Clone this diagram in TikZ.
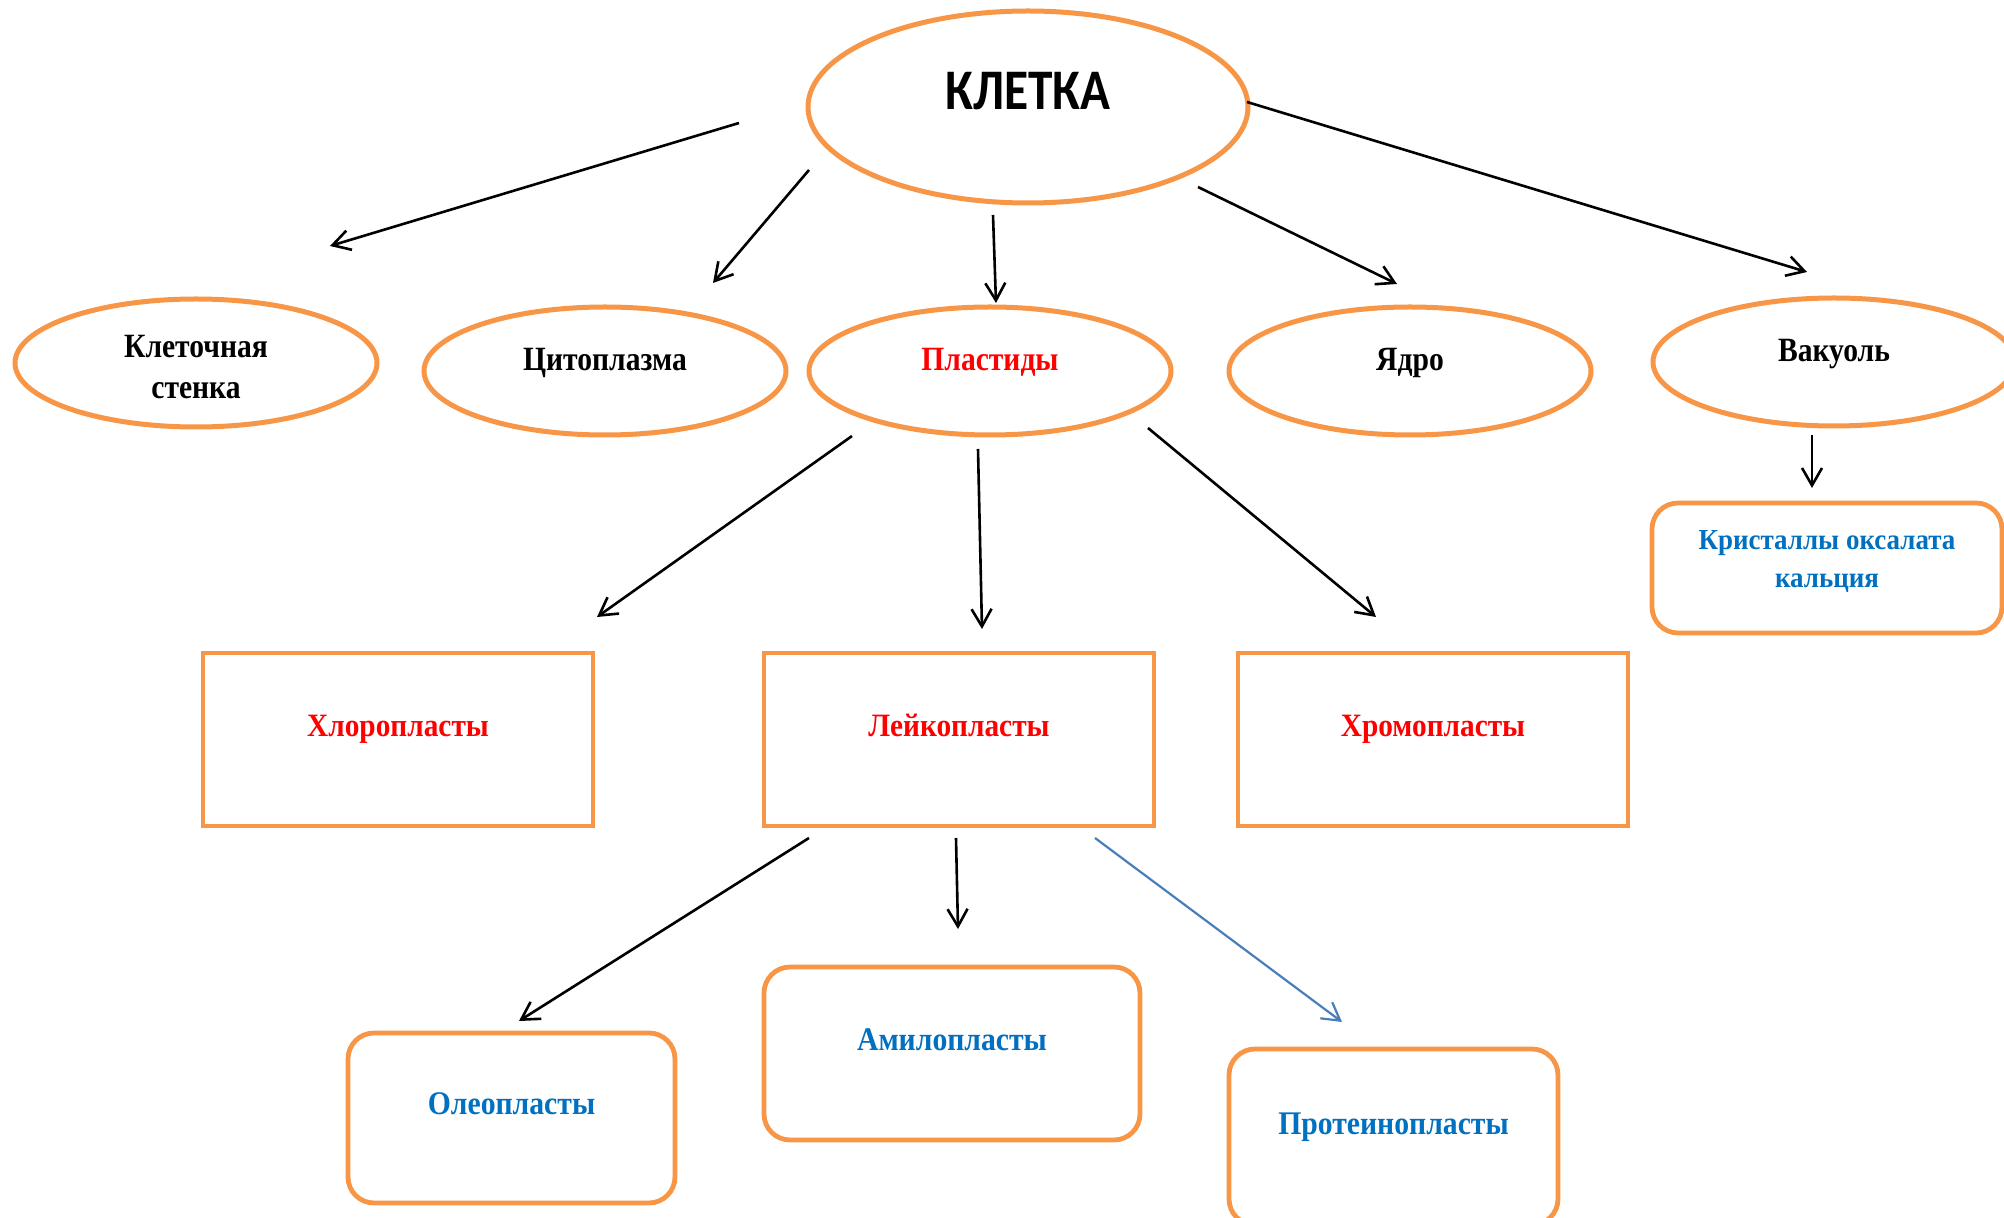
\documentclass[tikz,border=0pt]{standalone}
\usepackage{fontspec}
\setmainfont{Liberation Serif}
\newfontfamily\headfont[FakeStretch=0.86]{Carlito}
\newfontfamily\ellfont[FakeStretch=0.87]{Liberation Serif}
\newfontfamily\boxfont[FakeStretch=0.9]{Liberation Serif}
\newfontfamily\notefont[FakeStretch=0.93]{Liberation Serif}
\usetikzlibrary{shapes.geometric,arrows.meta}

\definecolor{frameorange}{HTML}{F79646}
\definecolor{labelred}{HTML}{FF0000}
\definecolor{labelblue}{HTML}{0070C0}
\definecolor{arrowblue}{HTML}{4A7EBB}

\tikzset{
  cellnode/.style={ellipse, draw=frameorange, line width=2.5pt, fill=white,
    minimum width=220pt, minimum height=96pt, inner sep=0pt,
    text height=2.5pt, text depth=0pt,
    font=\headfont\fontsize{28.7pt}{34pt}\selectfont\bfseries},
  partnode/.style={ellipse, draw=frameorange, line width=2.5pt, fill=white,
    minimum width=181pt, minimum height=64pt, inner sep=0pt,
    font=\ellfont\fontsize{17pt}{20.5pt}\selectfont\bfseries, align=center},
  oneline/.style={text height=0pt, text depth=0pt},
  boxline/.style={text height=0pt, text depth=3pt},
  plastbox/.style={rectangle, draw=frameorange, line width=2.2pt, fill=white,
    minimum width=195pt, minimum height=86.5pt, inner sep=0pt,
    boxline, text=labelred,
    font=\boxfont\fontsize{16.3pt}{20pt}\selectfont\bfseries},
  subbox/.style={rectangle, rounded corners=13pt, draw=frameorange, line width=2.4pt,
    fill=white, inner sep=0pt, text=labelblue, align=center,
    font=\boxfont\fontsize{16.5pt}{20pt}\selectfont\bfseries},
  link/.style={draw=black, line width=1.3pt,
    -{Straight Barb[length=8.7pt,width=10pt]}},
  bluelink/.style={draw=arrowblue, line width=1.1pt,
    -{Straight Barb[length=8.7pt,width=10pt]}}
}

\begin{document}
\begin{tikzpicture}[x=0.5pt, y=-0.5pt]
\useasboundingbox (0,0) rectangle (2004,1218);
\clip (0,0) rectangle (2004,1218);

% top concept
\node[cellnode] (cell) at (1028,107) {КЛЕТКА};

% cell components
\node[partnode, text height=35.75pt] (wall) at (196,363) {Клеточная\\стенка};
\node[partnode, oneline] (cyto) at (605,371) {Цитоплазма};
\node[partnode, oneline, text=labelred] (plast) at (990,371) {Пластиды};
\node[partnode, oneline] (nucl) at (1410,371) {Ядро};
\node[partnode, oneline] (vac) at (1834,362) {Вакуоль};

% crystals in the vacuole
\node[subbox, minimum width=175pt, minimum height=65pt, text height=22.2pt,
      font=\notefont\fontsize{14.5pt}{19pt}\selectfont\bfseries] (cryst) at (1827,568)
      {Кристаллы оксалата\\кальция};

% plastid types
\node[plastbox] (chloro) at (398,739.5) {Хлоропласты};
\node[plastbox] (leuco) at (959,739.5) {Лейкопласты};
\node[plastbox] (chromo) at (1433,739.5) {Хромопласты};

% leucoplast types
\node[subbox, boxline, minimum width=163.5pt, minimum height=85pt] (oleo) at (511.5,1118) {Олеопласты};
\node[subbox, boxline, minimum width=188pt, minimum height=86.5pt] (amylo) at (952,1053.5) {Амилопласты};
\node[subbox, boxline, minimum width=164.5pt, minimum height=88pt] (prot) at (1393.5,1137) {Протеинопласты};

% arrow end points
\coordinate (a1s) at (739,123);   \coordinate (a1e) at (330,246);
\coordinate (a2s) at (809,170);   \coordinate (a2e) at (713,283);
\coordinate (a3s) at (993,215);   \coordinate (a3e) at (996,303);
\coordinate (a4s) at (1198,187);  \coordinate (a4e) at (1397,284);
\coordinate (a5s) at (1247,102);  \coordinate (a5e) at (1807,272);
\coordinate (a6s) at (1812,435);  \coordinate (a6e) at (1812,488);
\coordinate (a7s) at (852,436);   \coordinate (a7e) at (597,617);
\coordinate (a8s) at (978,449);   \coordinate (a8e) at (982,629);
\coordinate (a9s) at (1148,428);  \coordinate (a9e) at (1376,617);
\coordinate (a10s) at (809,838);  \coordinate (a10e) at (519,1021);
\coordinate (a11s) at (956,838);  \coordinate (a11e) at (958,929);
\coordinate (a12s) at (1095,838); \coordinate (a12e) at (1342,1022);

% arrows
\draw[link] (a1s) -- (a1e);
\draw[link] (a2s) -- (a2e);
\draw[link] (a3s) -- (a3e);
\draw[link] (a4s) -- (a4e);
\draw[link] (a5s) -- (a5e);
\draw[link] (a6s) -- (a6e);
\draw[link] (a7s) -- (a7e);
\draw[link] (a8s) -- (a8e);
\draw[link] (a9s) -- (a9e);
\draw[link] (a10s) -- (a10e);
\draw[link] (a11s) -- (a11e);
\draw[bluelink] (a12s) -- (a12e);
\end{tikzpicture}
\end{document}
